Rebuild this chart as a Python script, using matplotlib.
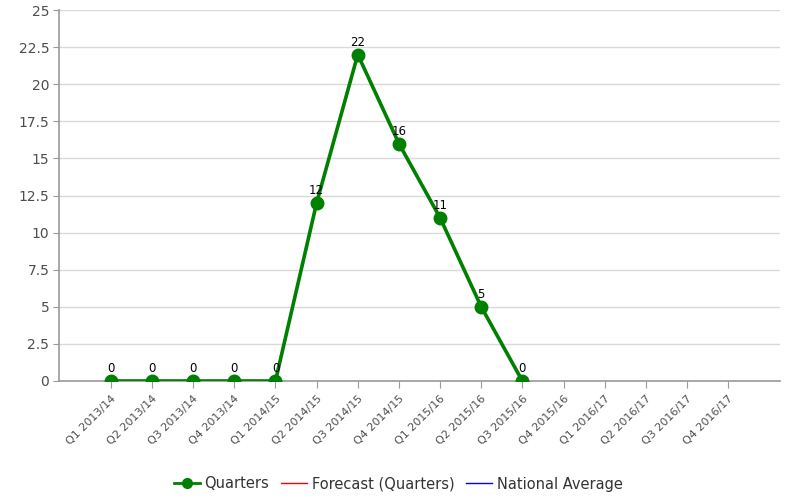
import matplotlib
matplotlib.use("Agg")
import matplotlib.pyplot as plt
from matplotlib.lines import Line2D

categories = ["Q1 2013/14", "Q2 2013/14", "Q3 2013/14", "Q4 2013/14",
              "Q1 2014/15", "Q2 2014/15", "Q3 2014/15", "Q4 2014/15",
              "Q1 2015/16", "Q2 2015/16", "Q3 2015/16", "Q4 2015/16",
              "Q1 2016/17", "Q2 2016/17", "Q3 2016/17", "Q4 2016/17"]
quarters = [0, 0, 0, 0, 0, 12, 22, 16, 11, 5, 0]
y_ticks = [0, 2.5, 5, 7.5, 10, 12.5, 15, 17.5, 20, 22.5, 25]
y_tick_labels = ["0", "2.5", "5", "7.5", "10", "12.5", "15", "17.5", "20", "22.5", "25"]

green = "#008000"
axis_gray = "#999999"
text_gray = "#4d4d4d"

fig = plt.figure(figsize=(7.87, 5.0), dpi=100)
ax = fig.add_axes([59 / 787, 1 - 381 / 500, (780 - 59) / 787, (381 - 10) / 500])

x = list(range(len(quarters)))
ax.plot(x, quarters, color=green, lw=2.6, marker="o", ms=9, zorder=3,
        solid_joinstyle="round")
for xi, v in zip(x, quarters):
    ax.annotate(str(v), (xi, v), xytext=(0, 4), textcoords="offset points",
                ha="center", va="bottom", fontsize=8.5, color="black", zorder=4)

ax.set_xlim(-1.26, len(categories) - 1 + 1.26)
ax.set_ylim(0, 25)
ax.set_yticks(y_ticks)
ax.set_yticklabels(y_tick_labels)
ax.set_xticks(range(len(categories)))
ax.set_xticklabels(categories, rotation=45, ha="right", rotation_mode="anchor")

ax.grid(axis="y", color="#d9d9d9", lw=1)
ax.set_axisbelow(True)
for side in ("top", "right"):
    ax.spines[side].set_visible(False)
for side in ("left", "bottom"):
    ax.spines[side].set_color(axis_gray)
    ax.spines[side].set_linewidth(1.2)

ax.tick_params(axis="y", length=4, color=axis_gray, labelsize=10, labelcolor=text_gray, pad=3)
ax.tick_params(axis="x", length=5, color=axis_gray, labelsize=8, labelcolor=text_gray, pad=4)

handles = [
    Line2D([], [], color=green, lw=2, marker="o", ms=7),
    Line2D([], [], color="#ff0000", lw=1),
    Line2D([], [], color="#0000ff", lw=1),
]
labels = ["Quarters", "Forecast (Quarters)", "National Average"]
fig.legend(handles, labels, loc="center", bbox_to_anchor=(0.506, 1 - 484 / 500),
           ncol=3, frameon=False, fontsize=10.5, handlelength=1.8, handletextpad=0.3,
           columnspacing=0.8, labelcolor="#333333")

fig.savefig("out.png", dpi=100)
